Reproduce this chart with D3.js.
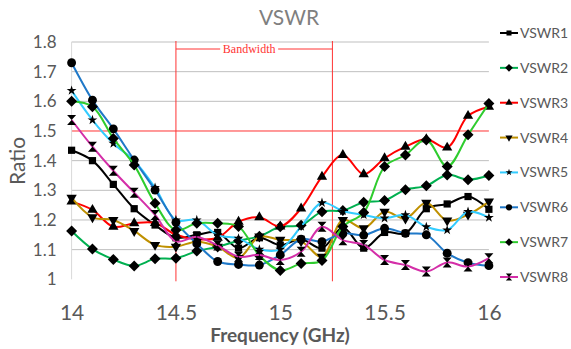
<!DOCTYPE html>
<html lang="en">
<head>
    <meta charset="UTF-8">
    <title>VSWR</title>
    <script src="https://d3js.org/d3.v7.min.js"></script>
    <style>
        body { margin: 0; background: white; }
        svg { display: block; font-family: Lato, "Open Sans", sans-serif; }
        .grid line { stroke: #bfbfbf; stroke-width: 1px; }
        .tick-label { fill: #595959; }
    </style>
</head>
<body>
<svg id="canvas" width="571" height="349"></svg>

<script>
    // frequency points (GHz)
    let freqs = [14, 14.1, 14.2, 14.3, 14.4, 14.5, 14.6, 14.7, 14.8, 14.9, 15,
                 15.1, 15.2, 15.3, 15.4, 15.5, 15.6, 15.7, 15.8, 15.9, 16];

    let vswr1 = [1.435, 1.40, 1.32, 1.238, 1.183, 1.14, 1.15, 1.158, 1.105, 1.14, 1.115,
                 1.135, 1.105, 1.175, 1.105, 1.158, 1.155, 1.238, 1.254, 1.279, 1.236];
    let vswr2 = [1.163, 1.102, 1.067, 1.045, 1.069, 1.071, 1.095, 1.11, 1.13, 1.145, 1.177,
                 1.182, 1.228, 1.232, 1.26, 1.266, 1.302, 1.315, 1.352, 1.336, 1.35];
    let vswr3 = [1.262, 1.234, 1.177, 1.189, 1.19, 1.15, 1.135, 1.14, 1.194, 1.209, 1.178,
                 1.239, 1.346, 1.419, 1.354, 1.408, 1.447, 1.472, 1.444, 1.551, 1.582];
    let vswr4 = [1.275, 1.209, 1.20, 1.163, 1.116, 1.11, 1.127, 1.11, 1.072, 1.144, 1.133,
                 1.128, 1.076, 1.20, 1.172, 1.228, 1.205, 1.258, 1.198, 1.218, 1.262];
    let vswr5 = [1.636, 1.537, 1.458, 1.40, 1.309, 1.20, 1.20, 1.149, 1.138, 1.101, 1.101,
                 1.178, 1.258, 1.23, 1.217, 1.206, 1.217, 1.177, 1.166, 1.228, 1.208];
    let vswr6 = [1.73, 1.604, 1.507, 1.402, 1.301, 1.192, 1.12, 1.06, 1.05, 1.048, 1.082,
                 1.135, 1.127, 1.155, 1.149, 1.172, 1.155, 1.15, 1.088, 1.056, 1.046];
    let vswr7 = [1.60, 1.582, 1.475, 1.385, 1.256, 1.166, 1.189, 1.189, 1.178, 1.08, 1.03,
                 1.053, 1.063, 1.178, 1.225, 1.38, 1.419, 1.47, 1.38, 1.487, 1.593];
    let vswr8 = [1.537, 1.447, 1.366, 1.292, 1.217, 1.128, 1.143, 1.114, 1.076, 1.082, 1.065,
                 1.093, 1.177, 1.132, 1.116, 1.065, 1.048, 1.026, 1.057, 1.043, 1.071];

    let seriesNames = ["VSWR1", "VSWR2", "VSWR3", "VSWR4", "VSWR5", "VSWR6", "VSWR7", "VSWR8"];
    let seriesValues = [vswr1, vswr2, vswr3, vswr4, vswr5, vswr6, vswr7, vswr8];
    let seriesColors = ["#000000", "#00b050", "#ff0000", "#bf9000", "#33ccff", "#1f78c8", "#2ecc2e", "#d42ea8"];
    let seriesMarkers = ["square", "diamond", "triangle", "triangleDown", "star", "circle", "diamond", "hourglass"];

    let yTicks = [1, 1.1, 1.2, 1.3, 1.4, 1.5, 1.6, 1.7, 1.8];
    let xTicks = [14, 14.5, 15, 15.5, 16];
    let bandLimits = [14.5, 15.25];
    let limitLine = 1.5;

    let svg = d3.select('svg');

    let x = d3.scaleLinear().domain([14, 16]).range([71.6, 488.9]);
    let y = d3.scaleLinear().domain([1, 1.8]).range([279.3, 42]);

    // gridlines
    let grid = svg.append('g').attr('class', 'grid');
    grid.selectAll('line')
        .data(yTicks.filter(d => d > 1))
        .enter()
        .append('line')
        .attr('x1', x(14)).attr('x2', x(16))
        .attr('y1', d => y(d)).attr('y2', d => y(d))
        .style('stroke', d => d === limitLine ? '#ff3333' : null);

    svg.append('line')
        .attr('x1', x(14)).attr('x2', x(14))
        .attr('y1', y(1.8)).attr('y2', y(1))
        .attr('stroke', '#d9d9d9');

    // axis labels
    let yAxis = d3.axisLeft(y).tickValues(yTicks).tickSize(0).tickPadding(15)
        .tickFormat(d => d === 1 ? "1" : d.toFixed(1));
    svg.append('g')
        .attr('transform', 'translate(' + x(14) + ',0)')
        .call(yAxis)
        .call(g => g.select('.domain').remove())
        .selectAll('text')
        .attr('class', 'tick-label')
        .style('font-size', '17px')
        .style('font-family', 'Lato, sans-serif');

    let xAxis = d3.axisBottom(x).tickValues(xTicks).tickSize(0).tickPadding(26)
        .tickFormat(d3.format(''));
    svg.append('g')
        .attr('transform', 'translate(0,' + y(1) + ')')
        .call(xAxis)
        .call(g => g.select('.domain').remove())
        .selectAll('text')
        .attr('class', 'tick-label')
        .style('font-size', '21px')
        .style('font-family', 'Lato, sans-serif');

    // bandwidth markers
    let band = svg.append('g').attr('stroke', '#ff3333').attr('stroke-width', 1);
    band.selectAll('line.vert')
        .data(bandLimits)
        .enter()
        .append('line')
        .attr('class', 'vert')
        .attr('x1', d => x(d)).attr('x2', d => x(d))
        .attr('y1', y(1.8) - 1).attr('y2', y(1) + 2);
    let midX = (x(bandLimits[0]) + x(bandLimits[1])) / 2;
    band.append('line').attr('x1', x(bandLimits[0])).attr('x2', midX - 34).attr('y1', 49).attr('y2', 49);
    band.append('line').attr('x1', midX + 24).attr('x2', x(bandLimits[1])).attr('y1', 49).attr('y2', 49);
    svg.append('text')
        .attr('x', midX - 5).attr('y', 53)
        .attr('text-anchor', 'middle')
        .attr('fill', '#ff3333')
        .style('font-family', '"Liberation Serif", serif')
        .style('font-size', '12px')
        .text('Bandwidth');

    // marker shapes
    function markerPath(kind, s) {
        if (kind === 'square') return d3.symbol(d3.symbolSquare, 52 * s * s)();
        if (kind === 'diamond') return 'M0,' + (-5.5 * s) + 'L' + (5.5 * s) + ',0L0,' + (5.5 * s) + 'L' + (-5.5 * s) + ',0Z';
        if (kind === 'triangle') return d3.symbol(d3.symbolTriangle, 46 * s * s)();
        if (kind === 'triangleDown') return d3.symbol(d3.symbolTriangle, 46 * s * s)();
        if (kind === 'star') return d3.symbol(d3.symbolStar, 30 * s * s)();
        if (kind === 'circle') return d3.symbol(d3.symbolCircle, 62 * s * s)();
        if (kind === 'hourglass') {
            let a = 4.5 * s, b = 5 * s;
            return 'M' + (-a) + ',' + (-b) + 'L' + a + ',' + (-b) + 'L' + (-a) + ',' + b + 'L' + a + ',' + b + 'Z';
        }
    }

    let line = d3.line()
        .x((d, i) => x(freqs[i]))
        .y(d => y(d))
        .curve(d3.curveCatmullRom.alpha(0.5));

    let series = svg.selectAll('g.series')
        .data(seriesValues)
        .enter()
        .append('g')
        .attr('class', 'series');

    series.append('path')
        .attr('d', d => line(d))
        .attr('fill', 'none')
        .attr('stroke', (d, i) => seriesColors[i])
        .attr('stroke-width', 2);

    series.each(function (vals, si) {
        d3.select(this).selectAll('path.mk')
            .data(vals)
            .enter()
            .append('path')
            .attr('class', 'mk')
            .attr('d', markerPath(seriesMarkers[si], 1))
            .attr('transform', (d, i) => 'translate(' + x(freqs[i]) + ',' + y(d) + ')' +
                (seriesMarkers[si] === 'triangleDown' ? ' rotate(180)' : ''))
            .attr('fill', '#000');
    });

    // legend
    let legend = svg.selectAll('g.legend')
        .data(seriesNames)
        .enter()
        .append('g')
        .attr('class', 'legend')
        .attr('transform', (d, i) => 'translate(500,' + (33 + i * 34.86) + ')');
    legend.append('line')
        .attr('x1', 0).attr('x2', 18)
        .attr('stroke', (d, i) => seriesColors[i])
        .attr('stroke-width', 2);
    legend.append('path')
        .attr('d', (d, i) => markerPath(seriesMarkers[i], 0.7))
        .attr('transform', (d, i) => 'translate(9,0)' + (seriesMarkers[i] === 'triangleDown' ? ' rotate(180)' : ''))
        .attr('fill', '#000');
    legend.append('text')
        .attr('x', 20).attr('y', 5)
        .attr('fill', '#595959')
        .style('font-size', '14px')
        .text(d => d);

    // titles
    svg.append('text')
        .attr('x', 289).attr('y', 25)
        .attr('text-anchor', 'middle')
        .attr('fill', '#7f7f7f')
        .style('font-size', '21px')
        .text('VSWR');

    svg.append('text')
        .attr('x', 280).attr('y', 342)
        .attr('text-anchor', 'middle')
        .attr('fill', '#595959')
        .style('font-size', '19px')
        .style('font-weight', 'bold')
        .text('Frequency (GHz)');

    svg.append('text')
        .attr('transform', 'translate(25,161) rotate(-90)')
        .attr('text-anchor', 'middle')
        .attr('fill', '#595959')
        .style('font-size', '21px')
        .text('Ratio');
</script>
</body>
</html>
